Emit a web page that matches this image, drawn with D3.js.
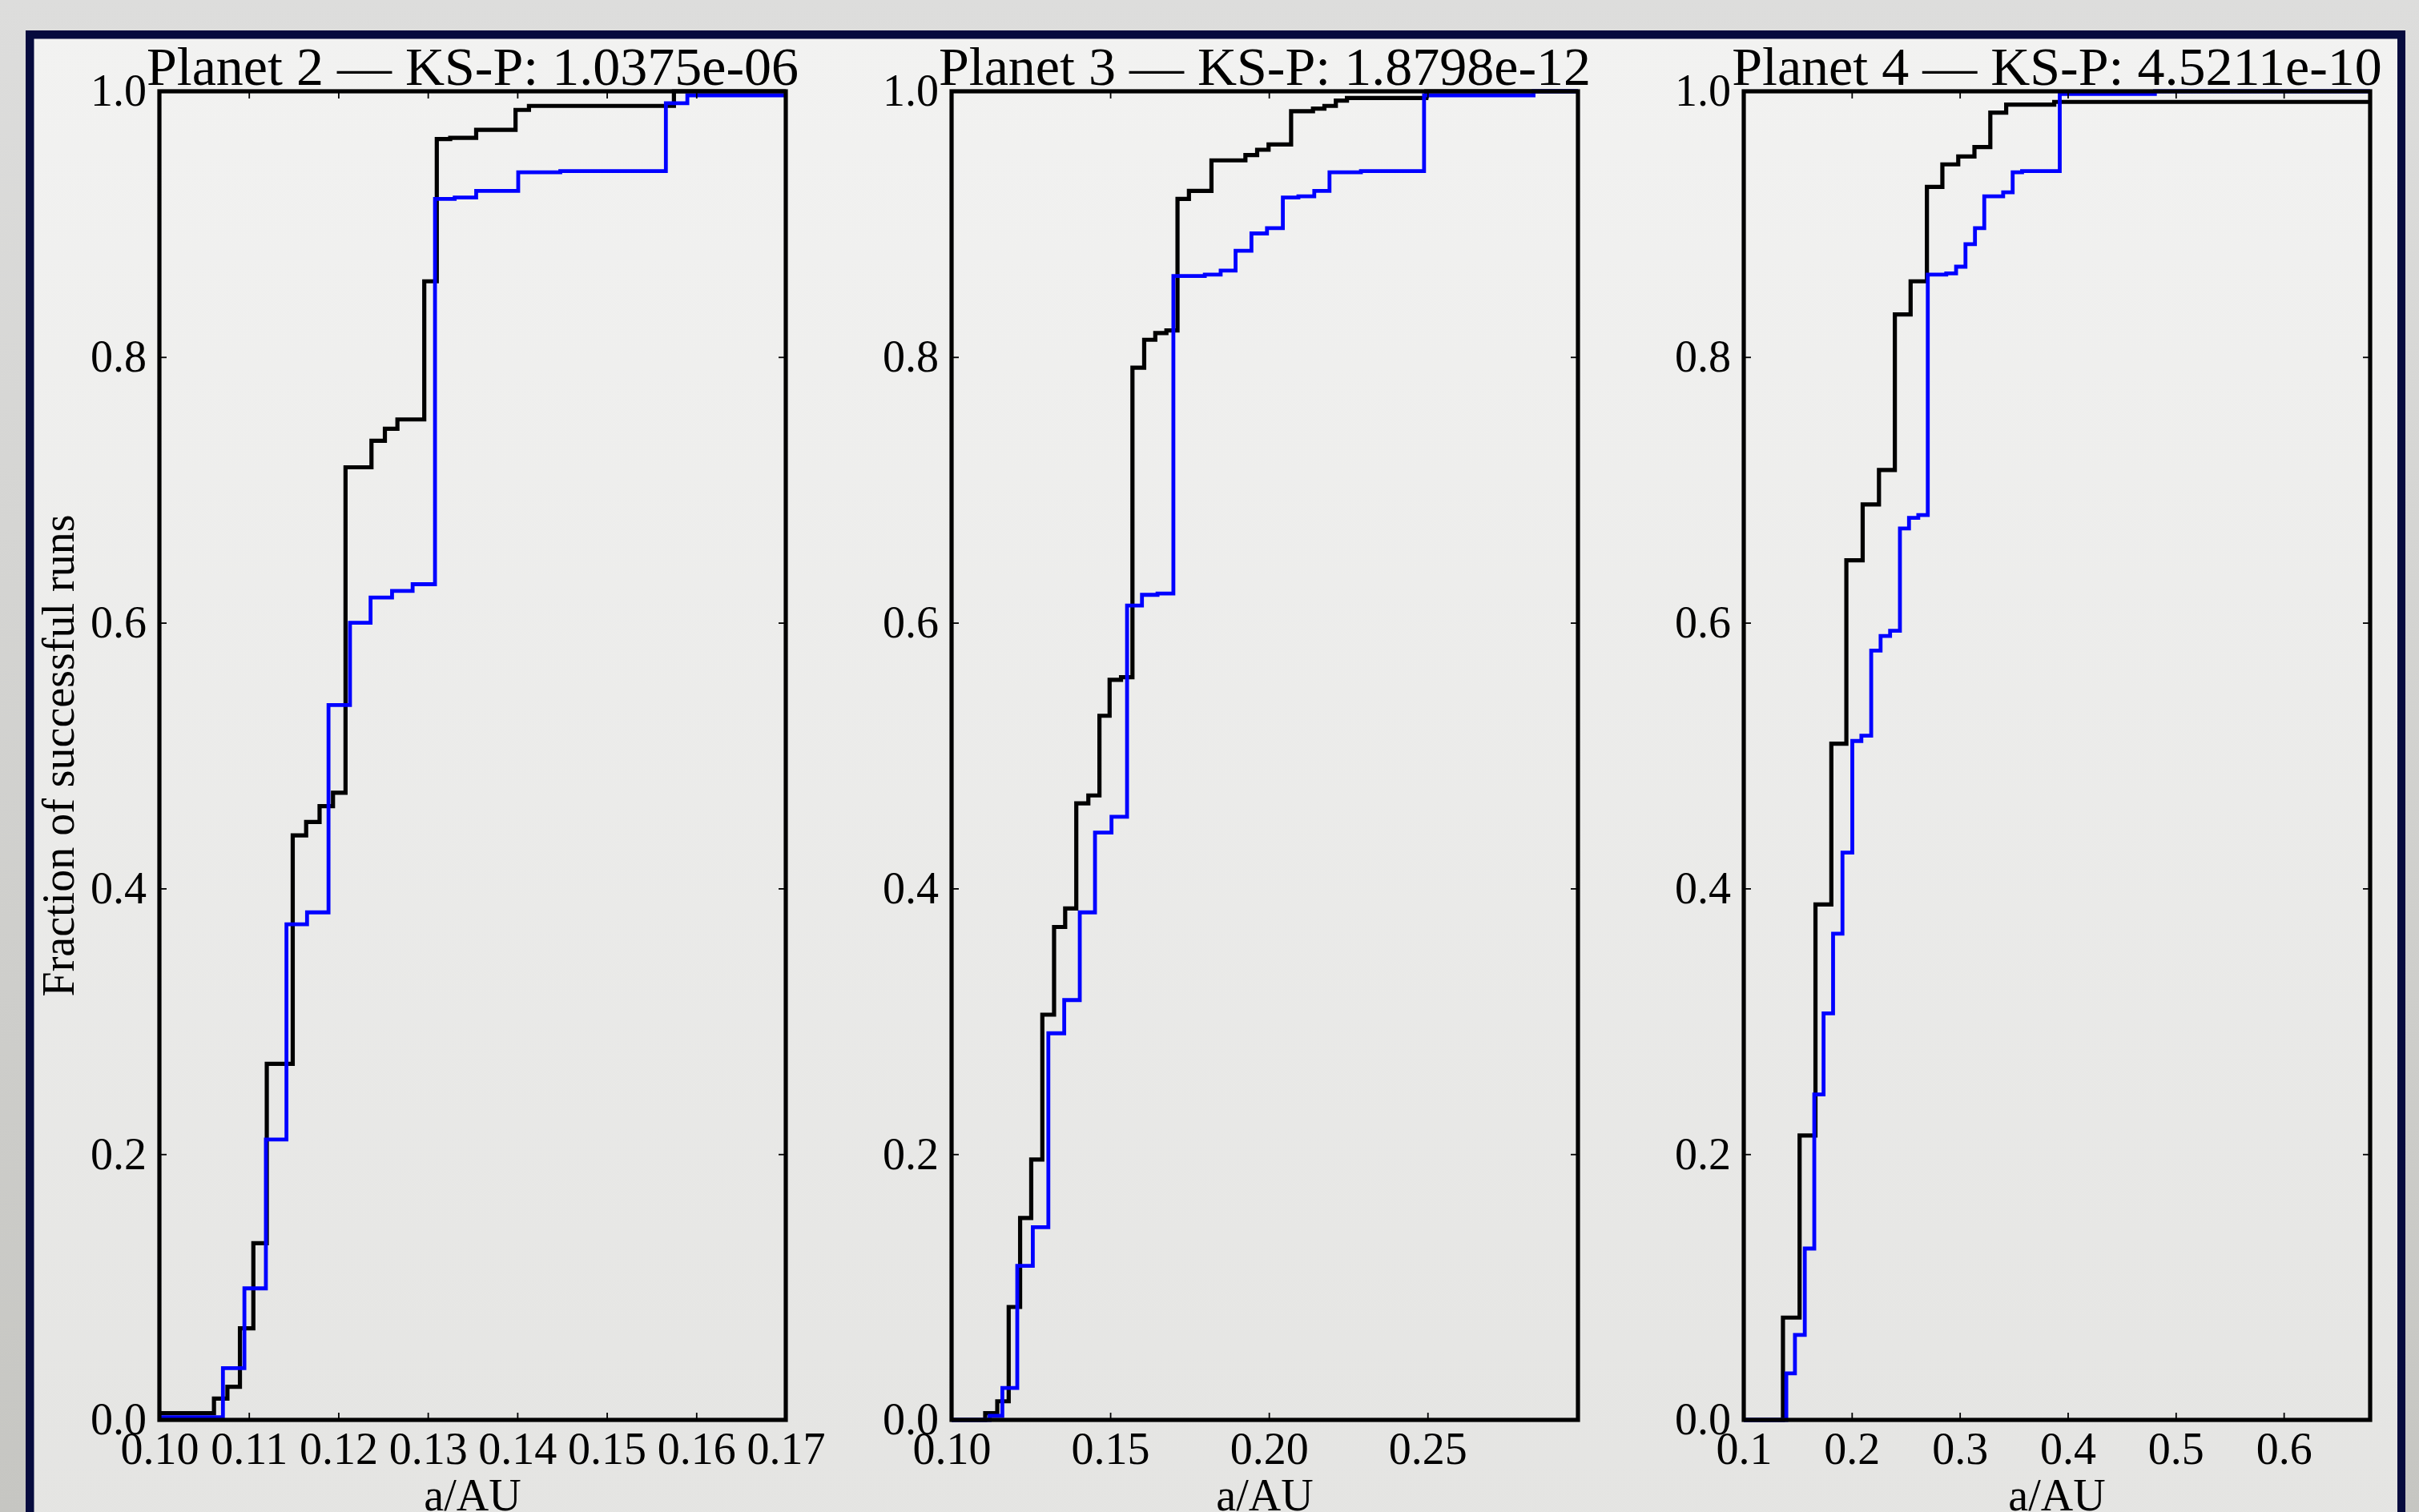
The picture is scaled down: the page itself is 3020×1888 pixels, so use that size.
<!DOCTYPE html>
<html>
<meta charset="utf-8">
<style>
  body { margin: 0; overflow: hidden; background: #dcdcdb; }
  text { font-family: "Liberation Serif", "DejaVu Serif", serif; fill: #000; }
</style>
<body>
<div id="chart"></div>
<script src="https://d3js.org/d3.v7.min.js"></script>
<script>
"use strict";

// Cumulative fraction of successful runs vs semi-major axis.
// Each series: x = position of a step (AU), y = fraction after the step.

// Planet 2
var p2BlackX = [0.1000, 0.1061, 0.1076, 0.1090, 0.1105, 0.1120, 0.1149, 0.1164, 0.1179, 0.1194,
                0.1208, 0.1237, 0.1252, 0.1266, 0.1296, 0.1310, 0.1325, 0.1354, 0.1398, 0.1413, 0.1575];
var p2BlackY = [0.005, 0.016, 0.025, 0.069, 0.133, 0.268, 0.440, 0.450, 0.462, 0.472,
                0.717, 0.737, 0.746, 0.753, 0.857, 0.964, 0.965, 0.971, 0.986, 0.989, 1.000];
var p2BlueX = [0.1000, 0.1071, 0.1095, 0.1119, 0.1142, 0.1165, 0.1189, 0.1213, 0.1236, 0.1260,
               0.1283, 0.1308, 0.1330, 0.1354, 0.1401, 0.1448, 0.1566, 0.1590];
var p2BlueY = [0.002, 0.039, 0.099, 0.211, 0.373, 0.382, 0.538, 0.600, 0.619, 0.624,
               0.629, 0.919, 0.920, 0.925, 0.939, 0.940, 0.991, 0.997];

// Planet 3
var p3BlackX = [0.1000, 0.1106, 0.1144, 0.1180, 0.1216, 0.1251, 0.1286, 0.1323, 0.1358, 0.1393,
                0.1431, 0.1466, 0.1498, 0.1534, 0.1570, 0.1607, 0.1642, 0.1677, 0.1712, 0.1748,
                0.1819, 0.1926, 0.1963, 0.1999, 0.2070, 0.2139, 0.2175, 0.2211, 0.2246, 0.2496];
var p3BlackY = [0.000, 0.005, 0.014, 0.085, 0.152, 0.196, 0.305, 0.371, 0.385, 0.464,
                0.470, 0.530, 0.557, 0.559, 0.792, 0.813, 0.818, 0.820, 0.919, 0.925,
                0.948, 0.952, 0.956, 0.960, 0.985, 0.987, 0.989, 0.993, 0.995, 1.000];
var p3BlueX = [0.1000, 0.1120, 0.1160, 0.1207, 0.1256, 0.1305, 0.1355, 0.1404, 0.1452, 0.1504,
               0.1553, 0.1600, 0.1649, 0.1699, 0.1798, 0.1848, 0.1895, 0.1945, 0.1994, 0.2044,
               0.2093, 0.2143, 0.2191, 0.2290, 0.2489, 0.2834];
var p3BlueY = [0.000, 0.003, 0.024, 0.116, 0.145, 0.291, 0.316, 0.382, 0.442, 0.454,
               0.613, 0.621, 0.622, 0.861, 0.862, 0.865, 0.880, 0.893, 0.897, 0.920,
               0.921, 0.925, 0.939, 0.940, 0.997, 1.000];

// Planet 4
var p4BlackX = [0.1000, 0.1363, 0.1517, 0.1664, 0.1811, 0.1950, 0.2101, 0.2252, 0.2399, 0.2545,
                0.2696, 0.2839, 0.2986, 0.3136, 0.3283, 0.3430, 0.3875];
var p4BlackY = [0.000, 0.077, 0.214, 0.388, 0.509, 0.647, 0.689, 0.715, 0.832, 0.857,
                0.928, 0.945, 0.951, 0.958, 0.984, 0.990, 0.992];
var p4BlueX = [0.1000, 0.1394, 0.1474, 0.1565, 0.1653, 0.1739, 0.1827, 0.1914, 0.2005, 0.2089,
               0.2180, 0.2267, 0.2355, 0.2446, 0.2530, 0.2616, 0.2704, 0.2875, 0.2966, 0.3053,
               0.3141, 0.3227, 0.3402, 0.3490, 0.3577, 0.3926, 0.4807];
var p4BlueY = [0.000, 0.035, 0.064, 0.129, 0.245, 0.306, 0.366, 0.427, 0.511, 0.515,
               0.579, 0.590, 0.594, 0.671, 0.679, 0.681, 0.862, 0.863, 0.868, 0.885,
               0.897, 0.921, 0.924, 0.939, 0.940, 0.998, 1.000];

// Axis ranges and tick labels
var titles = ["Planet 2 \u2014 KS-P: 1.0375e-06", "Planet 3 \u2014 KS-P: 1.8798e-12", "Planet 4 \u2014 KS-P: 4.5211e-10"];
var xMin = [0.10, 0.10, 0.10];
var xMax = [0.17, 0.2974, 0.68];
var p2Ticks = [0.10, 0.11, 0.12, 0.13, 0.14, 0.15, 0.16, 0.17];
var p3Ticks = [0.10, 0.15, 0.20, 0.25];
var p4Ticks = [0.1, 0.2, 0.3, 0.4, 0.5, 0.6];
var xFormats = [".2f", ".2f", ".1f"];
var yTicks = [0.0, 0.2, 0.4, 0.6, 0.8, 1.0];

var panels = [
  { black: [p2BlackX, p2BlackY], blue: [p2BlueX, p2BlueY], ticks: p2Ticks },
  { black: [p3BlackX, p3BlackY], blue: [p3BlueX, p3BlueY], ticks: p3Ticks },
  { black: [p4BlackX, p4BlackY], blue: [p4BlueX, p4BlueY], ticks: p4Ticks }
];

var W = 3020, H = 1888;
var svg = d3.select("#chart").append("svg")
    .attr("width", W).attr("height", H)
    .attr("viewBox", "0 0 " + W + " " + H);

// backgrounds (slide-like frame)
var defs = svg.append("defs");
var outer = defs.append("linearGradient").attr("id", "outerBg")
    .attr("x1", 0).attr("y1", 0).attr("x2", 0).attr("y2", 1);
outer.append("stop").attr("offset", "0%").attr("stop-color", "#dddddc");
outer.append("stop").attr("offset", "100%").attr("stop-color", "#c6c6c2");
var inner = defs.append("linearGradient").attr("id", "innerBg")
    .attr("x1", 0).attr("y1", 0).attr("x2", 0).attr("y2", 1);
inner.append("stop").attr("offset", "0%").attr("stop-color", "#f2f2f1");
inner.append("stop").attr("offset", "100%").attr("stop-color", "#e4e4e2");

svg.append("rect").attr("width", W).attr("height", H).attr("fill", "url(#outerBg)");
svg.append("rect").attr("x", 32).attr("y", 38).attr("width", 2971).attr("height", 1900)
    .attr("fill", "#060b3e");
svg.append("rect").attr("x", 42.5).attr("y", 48.5).attr("width", 2950.5).attr("height", 1900)
    .attr("fill", "url(#innerBg)");

// panel geometry
var plotTop = 114, plotBottom = 1773, pw = 782;
var lefts = [199, 1188, 2177];

var y = d3.scaleLinear().domain([0, 1]).range([plotBottom, plotTop]);

panels.forEach(function (p, i) {
  var left = lefts[i], right = left + pw;
  var x = d3.scaleLinear().domain([xMin[i], xMax[i]]).range([left, right]);
  var g = svg.append("g");

  // ECDF step lines: black first, then blue
  var line = d3.line()
      .x(function (d) { return x(d[0]); })
      .y(function (d) { return y(d[1]); })
      .curve(d3.curveStepAfter);

  [["black", "#000000", 5.2], ["blue", "#0000ff", 4.8]].forEach(function (s) {
    var xs = p[s[0]][0], ys = p[s[0]][1];
    var pts = xs.map(function (v, k) { return [v, ys[k]]; });
    pts.push([xMax[i], ys[ys.length - 1]]);
    g.append("path")
        .attr("d", line(pts))
        .attr("fill", "none")
        .attr("stroke", s[1])
        .attr("stroke-width", s[2])
        .attr("stroke-linejoin", "miter");
  });

  // axes, ticks pointing inward on all four sides
  var fx = d3.format(xFormats[i]);
  var axB = g.append("g").attr("transform", "translate(0," + plotBottom + ")")
      .call(d3.axisBottom(x).tickValues(p.ticks).tickFormat(fx).tickSizeInner(-9).tickSizeOuter(0).tickPadding(15));
  var axT = g.append("g").attr("transform", "translate(0," + plotTop + ")")
      .call(d3.axisTop(x).tickValues(p.ticks).tickFormat("").tickSizeInner(-9).tickSizeOuter(0));
  var axL = g.append("g").attr("transform", "translate(" + left + ",0)")
      .call(d3.axisLeft(y).tickValues(yTicks).tickFormat(d3.format(".1f")).tickSizeInner(-9).tickSizeOuter(0).tickPadding(16));
  var axR = g.append("g").attr("transform", "translate(" + right + ",0)")
      .call(d3.axisRight(y).tickValues(yTicks).tickFormat("").tickSizeInner(-9).tickSizeOuter(0));

  [axB, axT, axL, axR].forEach(function (a) {
    a.select(".domain").remove();
    a.selectAll("line").attr("stroke", "#000").attr("stroke-width", 1.8);
    a.selectAll("text")
        .style("font-family", "'Liberation Serif', serif")
        .style("font-size", "56px")
        .attr("fill", "#000");
  });

  // spines on top of the lines
  g.append("rect")
      .attr("x", left).attr("y", plotTop)
      .attr("width", pw).attr("height", plotBottom - plotTop)
      .attr("fill", "none")
      .attr("stroke", "#000")
      .attr("stroke-width", 5.2);

  // title
  g.append("text")
      .attr("x", (left + right) / 2)
      .attr("y", 106)
      .attr("text-anchor", "middle")
      .style("font-size", "68px")
      .text(titles[i]);

  // x label
  g.append("text")
      .attr("x", (left + right) / 2)
      .attr("y", 1886)
      .attr("text-anchor", "middle")
      .style("font-size", "56px")
      .text("a/AU");
});

// y label, only on the first panel
svg.append("text")
    .attr("transform", "translate(92," + (plotTop + plotBottom) / 2 + ") rotate(-90)")
    .attr("text-anchor", "middle")
    .style("font-size", "56px")
    .text("Fraction of successful runs");
</script>
</body>
</html>
